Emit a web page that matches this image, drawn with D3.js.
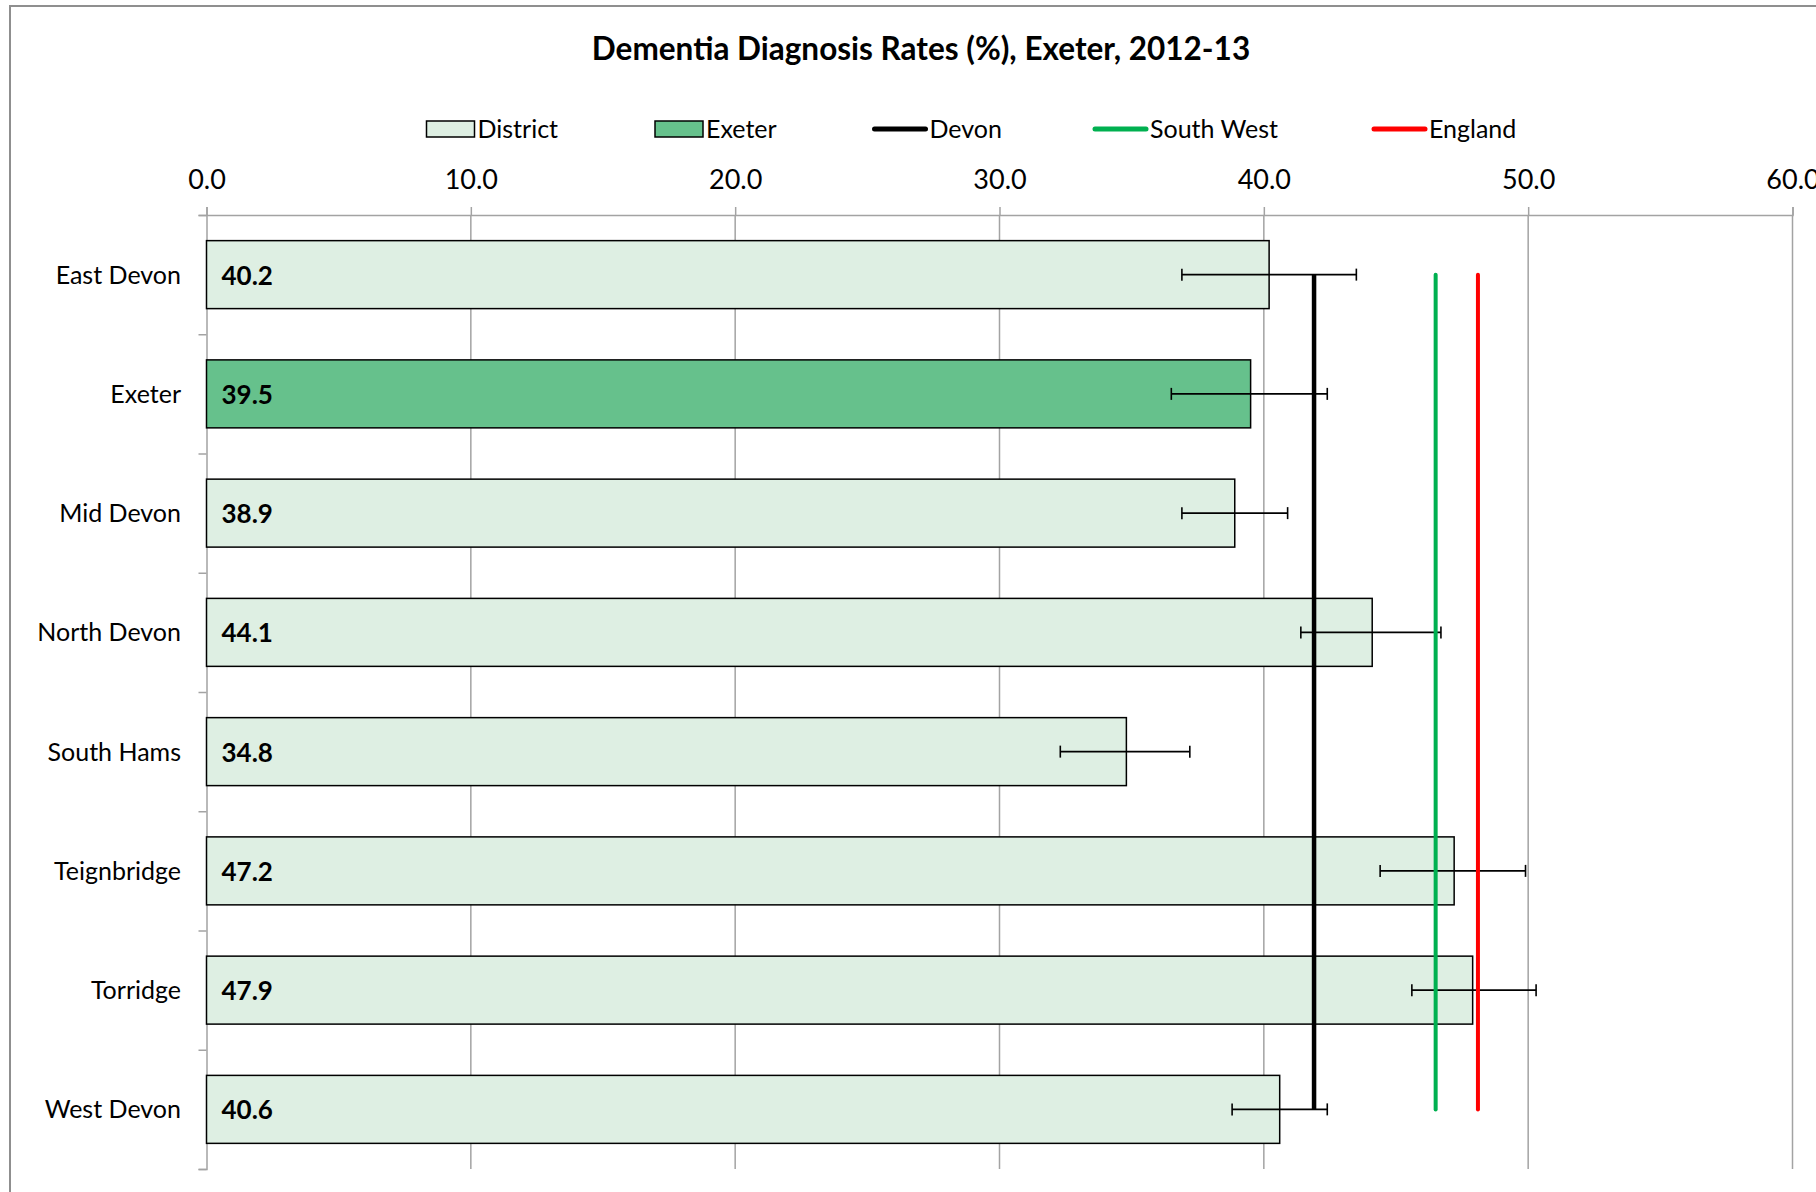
<!DOCTYPE html>
<html>
<head>
<meta charset="utf-8">
<script src="https://cdn.jsdelivr.net/npm/d3@7/dist/d3.min.js"></script>
<style>
  html, body { margin: 0; padding: 0; background: #fff; }
  svg { display: block; }
  text { font-family: Lato, "Open Sans", sans-serif; fill: #000; }
</style>
</head>
<body>
<svg id="chart" width="1816" height="1192"></svg>
<script>
// Dementia diagnosis rates by district, 2012-13
const districts = ["East Devon", "Exeter", "Mid Devon", "North Devon", "South Hams", "Teignbridge", "Torridge", "West Devon"];
const rates = [40.2, 39.5, 38.9, 44.1, 34.8, 47.2, 47.9, 40.6];
const ciLower = [36.9, 36.5, 36.9, 41.4, 32.3, 44.4, 45.6, 38.8];
const ciUpper = [43.5, 42.4, 40.9, 46.7, 37.2, 49.9, 50.3, 42.4];
const highlighted = "Exeter";

// Comparator averages
const benchmarkNames = ["Devon", "South West", "England"];
const benchmarkValues = [41.9, 46.5, 48.1];
const benchmarkColors = ["#000000", "#00b050", "#ff0000"];

const xTicks = [0, 10, 20, 30, 40, 50, 60];

const districtFill = "#deefe3";
const highlightFill = "#66c18c";
const gridColor = "#a3a3a3";

const svg = d3.select("#chart");

// outer chart frame
svg.append("rect")
  .attr("x", 10).attr("y", 6)
  .attr("width", 1830).attr("height", 1210)
  .attr("fill", "none").attr("stroke", "#8f8f8f").attr("stroke-width", 2);

const plot = { left: 206.5, right: 1792.5, top: 215, bottom: 1169 };

const x = d3.scaleLinear().domain([0, 60]).range([plot.left, plot.right]);
const y = d3.scaleBand().domain(districts)
  .range([plot.top, plot.bottom])
  .paddingInner(0.43).paddingOuter(0.215);
const yEdge = d3.scaleLinear().domain([0, districts.length]).range([plot.top, plot.bottom]);

// title
svg.append("text")
  .attr("x", 921).attr("y", 60)
  .attr("text-anchor", "middle")
  .style("font-size", "31.5px").style("font-weight", "bold")
  .text("Dementia Diagnosis Rates (%), Exeter, 2012-13");

// vertical gridlines
svg.append("g").selectAll("line")
  .data(xTicks.slice(1))
  .join("line")
  .attr("x1", d => x(d)).attr("x2", d => x(d))
  .attr("y1", plot.top).attr("y2", plot.bottom)
  .attr("stroke", gridColor).attr("stroke-width", 1.5);

// top value axis
const xAxis = svg.append("g")
  .attr("transform", `translate(0,${plot.top})`)
  .call(d3.axisTop(x).tickValues(xTicks).tickSize(8).tickPadding(18).tickFormat(d3.format(".1f")));
xAxis.select(".domain").attr("stroke", gridColor).attr("stroke-width", 1.5);
xAxis.selectAll(".tick line").attr("stroke", gridColor).attr("stroke-width", 1.5);
xAxis.selectAll(".tick text")
  .style("font-size", "27px").style("font-family", "Lato, sans-serif").attr("fill", "#000");

// category axis with ticks on the band edges
const yAxis = svg.append("g")
  .attr("transform", `translate(${plot.left},0)`)
  .call(d3.axisLeft(yEdge).ticks(districts.length).tickSize(8).tickFormat(""));
yAxis.select(".domain").attr("stroke", gridColor).attr("stroke-width", 1.5);
yAxis.selectAll(".tick line").attr("stroke", gridColor).attr("stroke-width", 1.5);

svg.append("g").selectAll("text")
  .data(districts)
  .join("text")
  .attr("x", 181)
  .attr("y", d => y(d) + y.bandwidth() / 2)
  .attr("dy", "0.36em")
  .attr("text-anchor", "end")
  .style("font-size", "25px")
  .text(d => d);

// bars
svg.append("g").selectAll("rect")
  .data(districts)
  .join("rect")
  .attr("x", x(0))
  .attr("y", d => y(d))
  .attr("width", (d, i) => x(rates[i]) - x(0))
  .attr("height", y.bandwidth())
  .attr("fill", d => d === highlighted ? highlightFill : districtFill)
  .attr("stroke", "#000").attr("stroke-width", 1.5);

// value labels
svg.append("g").selectAll("text")
  .data(districts)
  .join("text")
  .attr("x", x(0) + 15)
  .attr("y", d => y(d) + y.bandwidth() / 2)
  .attr("dy", "0.38em")
  .style("font-size", "26px").style("font-weight", "bold")
  .text((d, i) => d3.format(".1f")(rates[i]));

// confidence intervals
const ci = svg.append("g").attr("stroke", "#000").attr("stroke-width", 1.6);
districts.forEach((d, i) => {
  const cy = y(d) + y.bandwidth() / 2;
  ci.append("line").attr("x1", x(ciLower[i])).attr("x2", x(ciUpper[i])).attr("y1", cy).attr("y2", cy);
  [ciLower[i], ciUpper[i]].forEach(v => {
    ci.append("line").attr("x1", x(v)).attr("x2", x(v)).attr("y1", cy - 6).attr("y2", cy + 6);
  });
});

// comparator lines, spanning first to last district
const firstC = y(districts[0]) + y.bandwidth() / 2;
const lastC = y(districts[districts.length - 1]) + y.bandwidth() / 2;
svg.append("g").selectAll("line")
  .data(benchmarkValues)
  .join("line")
  .attr("x1", d => x(d)).attr("x2", d => x(d))
  .attr("y1", firstC).attr("y2", lastC)
  .attr("stroke", (d, i) => benchmarkColors[i])
  .attr("stroke-width", (d, i) => i === 0 ? 4.5 : 4)
  .attr("stroke-linecap", (d, i) => i === 0 ? "butt" : "round");

// legend
const legendY = 129;
const legend = svg.append("g");
const legendItems = [
  { label: "District", type: "box", fill: districtFill, x0: 426.5 },
  { label: "Exeter", type: "box", fill: highlightFill, x0: 655 },
  { label: benchmarkNames[0], type: "line", color: benchmarkColors[0], x0: 874.5 },
  { label: benchmarkNames[1], type: "line", color: benchmarkColors[1], x0: 1095 },
  { label: benchmarkNames[2], type: "line", color: benchmarkColors[2], x0: 1374 }
];
legendItems.forEach(it => {
  if (it.type === "box") {
    legend.append("rect")
      .attr("x", it.x0).attr("y", legendY - 8)
      .attr("width", 48).attr("height", 16)
      .attr("fill", it.fill).attr("stroke", "#000").attr("stroke-width", 1.5);
  } else {
    legend.append("line")
      .attr("x1", it.x0).attr("x2", it.x0 + 51)
      .attr("y1", legendY).attr("y2", legendY)
      .attr("stroke", it.color).attr("stroke-width", 5).attr("stroke-linecap", "round");
  }
  legend.append("text")
    .attr("x", it.x0 + (it.type === "box" ? 51 : 55))
    .attr("y", legendY).attr("dy", "0.36em")
    .style("font-size", "25px")
    .text(it.label);
});
</script>
</body>
</html>
